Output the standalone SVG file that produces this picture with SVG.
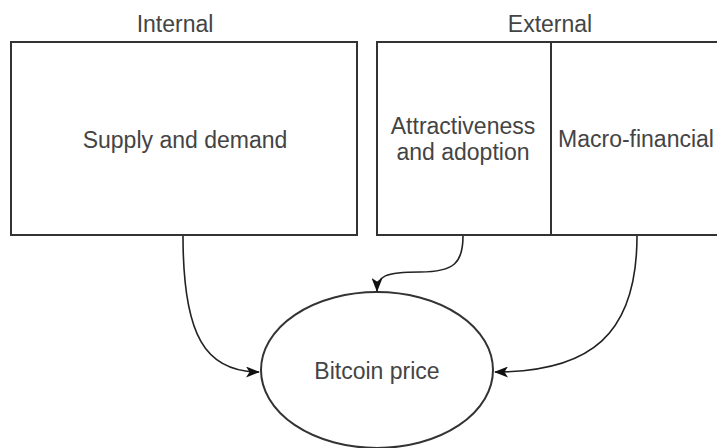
<svg xmlns="http://www.w3.org/2000/svg" width="717" height="448" viewBox="0 0 717 448">
<style>
.box{fill:#fff;stroke:#333;stroke-width:2}
.t{font-family:"Liberation Sans",Arial,sans-serif;font-size:23px;fill:#444;text-anchor:middle}
.c{fill:none;stroke:#222;stroke-width:1.6}
</style>
<defs>
<marker id="ah" viewBox="0 0 14 11" refX="13" refY="5.5" markerWidth="14" markerHeight="11" markerUnits="userSpaceOnUse" orient="auto">
<path d="M0 0 L14 5.5 L0 11 L3.5 5.5 Z" fill="#111"/>
</marker>
</defs>
<rect width="717" height="448" fill="#fff"/>
<g id="internal-label"><text class="t" x="175" y="32">Internal</text></g>
<g id="external-label"><text class="t" x="550" y="32">External</text></g>
<g id="supply">
<rect class="box" x="11" y="42" width="346" height="193"/>
<text class="t" x="185" y="148">Supply and demand</text>
</g>
<g id="attractiveness">
<rect class="box" x="377" y="42" width="174" height="193"/>
<text class="t" x="463" y="134">Attractiveness</text>
<text class="t" x="463" y="160">and adoption</text>
</g>
<g id="macro">
<rect class="box" x="551" y="42" width="180" height="193"/>
<text class="t" x="636" y="147">Macro-financial</text>
</g>
<g id="bitcoin">
<ellipse class="box" cx="377" cy="370" rx="116" ry="78"/>
<text class="t" x="377" y="379">Bitcoin price</text>
</g>
<g id="connectors">
<path class="c" marker-end="url(#ah)" d="M183 236 C183 335 205 372 259 372"/>
<path class="c" marker-end="url(#ah)" d="M463 236 C463 262 455 272 420 272 C385 272 377 276 377 291"/>
<path class="c" marker-end="url(#ah)" d="M637 236 C637 335 590 372 495 372"/>
</g>
</svg>
